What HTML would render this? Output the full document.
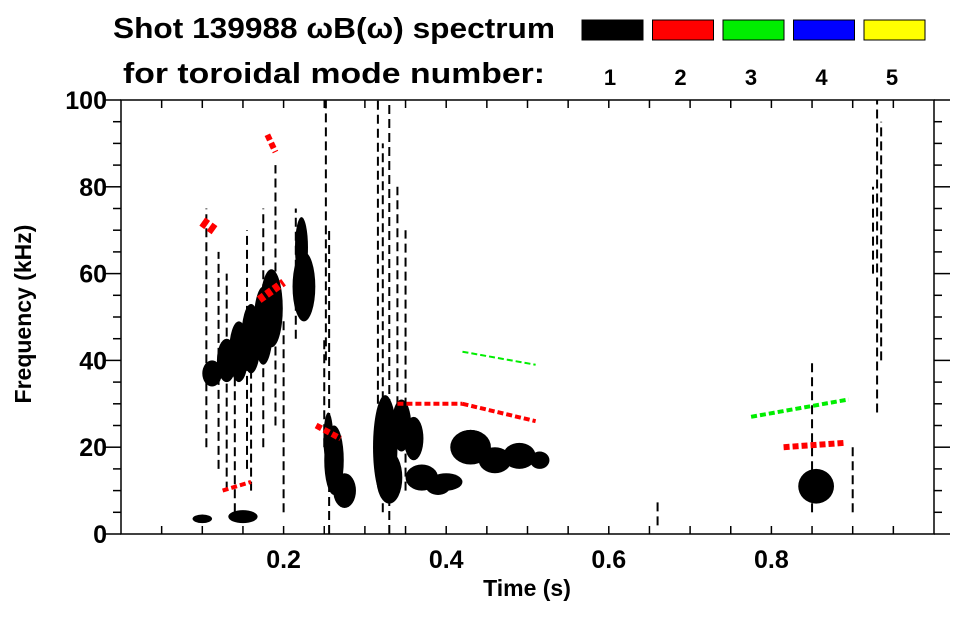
<!DOCTYPE html>
<html><head><meta charset="utf-8"><style>
body{margin:0;background:#fff;width:963px;height:615px;overflow:hidden;font-family:"Liberation Sans",Arial,sans-serif}
svg text{font-family:"Liberation Sans",Arial,sans-serif;font-weight:bold}
</style></head><body>
<svg id="chart" width="963" height="615" viewBox="0 0 963 615" xmlns="http://www.w3.org/2000/svg">
<text x="113" y="38" font-size="29" textLength="442" lengthAdjust="spacingAndGlyphs">Shot 139988 ωB(ω) spectrum</text>
<text x="123" y="83" font-size="29" textLength="422" lengthAdjust="spacingAndGlyphs">for toroidal mode number:</text>
<g id="legend"></g>
<g id="marks"></g>
<g id="axes"></g>
<text x="527" y="596" font-size="23" text-anchor="middle">Time (s)</text>
<text transform="translate(31,314) rotate(-90)" font-size="23" text-anchor="middle">Frequency (kHz)</text>
</svg>
<script>
// mode legend
const modes = [1,2,3,4,5];
const modeColors = ['#000000','#ff0000','#00ee00','#0000ff','#ffff00'];
// blobs: time center, freq center, time half-width, freq half-height, mode index
const blobT = [0.112,0.13,0.145,0.16,0.175,0.185,0.225,0.222,0.262,0.275,0.255,0.325,0.33,0.345,0.37,0.40,0.43,0.46,0.49,0.515,0.855,0.15,0.10,0.39,0.43,0.36];
const blobF = [37,40,42,45,48,52,57,66,17,10,22,20,13,25,13,12,20,17,18,17,11,4,3.5,11,21,22];
const blobDT= [0.012,0.012,0.012,0.012,0.012,0.014,0.014,0.008,0.012,0.014,0.006,0.015,0.016,0.012,0.02,0.02,0.025,0.02,0.02,0.012,0.022,0.018,0.012,0.015,0.02,0.012];
const blobDF= [3,5,7,8,9,9,8,7,8,4,6,12,6,6,3,2,4,3,3,2,4,1.5,1,2,3,5];
const blobM = [0,0,0,0,0,0,0,0,0,0,0,0,0,0,0,0,0,0,0,0,0,0,0,0,0,0];
// streaks: time, freq from, freq to, mode
const strT  = [0.105,0.12,0.13,0.155,0.175,0.19,0.2,0.215,0.252,0.256,0.316,0.322,0.33,0.34,0.35,0.93,0.935,0.925,0.25,0.14,0.16,0.66,0.9,0.85];
const strF0 = [20,15,10,15,20,25,5,45,40,0,30,5,0,20,10,28,40,60,20,5,10,2,5,5];
const strF1 = [75,65,60,70,75,85,50,75,100,70,100,90,100,80,70,100,95,80,45,45,50,8,20,40];
const strM  = [0,0,0,0,0,0,0,0,0,0,0,0,0,0,0,0,0,0,0,0,0,0,0,0];
// colored mode line segments
const segT0 = [0.34,0.42,0.815,0.775,0.42,0.10,0.17,0.125,0.24,0.18];
const segT1 = [0.42,0.51,0.89,0.895,0.51,0.115,0.2,0.16,0.27,0.19];
const segF0 = [30,30,20,27,42,72,54,10,25,92];
const segF1 = [30,26,21,31,39,70,58,12,22,88];
const segW  = [2,2,3,2,1,5,4,2,3,3];
const segM  = [1,1,1,2,2,1,1,1,1,1];

const X0=121,X1=934,Y0=534,Y1=100;
const xs=t=>X0+(X1-X0)*t/1.0;
const ys=f=>Y0-(Y0-Y1)*f/100;
const NS='http://www.w3.org/2000/svg';
const mk=(tag,at,parent)=>{const e=document.createElementNS(NS,tag);for(const k in at)e.setAttribute(k,at[k]);parent.appendChild(e);return e;};

const lg=document.getElementById('legend');
modes.forEach((m,i)=>{
  const x=582+i*70.5;
  const r=mk('rect',{x:x,y:20,width:61,height:20,fill:modeColors[i],stroke:'#000','stroke-width':1},lg);
  
  
  const t=mk('text',{x:x+28,y:85,'font-size':22,'text-anchor':'middle'},lg);
  t.textContent=m;
  
  
});

const g=document.getElementById('marks');
blobT.forEach((t,i)=>{
  const e=mk('ellipse',{cx:xs(t),cy:ys(blobF[i]),rx:xs(blobDT[i])-X0,ry:Y0-ys(blobDF[i]),fill:modeColors[blobM[i]]},g);
  
  
});
strT.forEach((t,i)=>{
  const e=mk('line',{x1:xs(t),x2:xs(t),y1:ys(strF0[i]),y2:ys(strF1[i]),stroke:modeColors[strM[i]],'stroke-width':2,'stroke-dasharray':'9 5'},g);
  
  
});
segT0.forEach((t,i)=>{
  const e=mk('line',{x1:xs(t),x2:xs(segT1[i]),y1:ys(segF0[i]),y2:ys(segF1[i]),stroke:modeColors[segM[i]],'stroke-width':segW[i]*2,'stroke-dasharray':'6 3'},g);
  
  
});

// axes
const xTicks=[0.2,0.4,0.6,0.8];
const yTicks=[0,20,40,60,80,100];
const ax=document.getElementById('axes');
mk('rect',{x:X0,y:Y1,width:X1-X0,height:Y0-Y1,fill:'none',stroke:'#000','stroke-width':1.5},ax);
for(let k=1;k<20;k++){const t=k*0.05,x=xs(t);
  mk('line',{x1:x,x2:x,y1:Y0,y2:Y0-8,stroke:'#000','stroke-width':1.5},ax);
  mk('line',{x1:x,x2:x,y1:Y1,y2:Y1+8,stroke:'#000','stroke-width':1.5},ax);}
for(let k=0;k<=20;k++){const f=k*5,y=ys(f),L=(k%4==0)?16:8;
  mk('line',{x1:X0,x2:X0-L,y1:y,y2:y,stroke:'#000','stroke-width':1.5},ax);
  mk('line',{x1:X1,x2:X1+L,y1:y,y2:y,stroke:'#000','stroke-width':1.5},ax);}
xTicks.forEach(t=>{const e=mk('text',{x:xs(t),y:568,'font-size':25,'text-anchor':'middle'},ax);e.textContent=t.toFixed(1);
  });
yTicks.forEach(f=>{const e=mk('text',{x:107,y:ys(f)+9,'font-size':25,'text-anchor':'end'},ax);e.textContent=f;
  });
</script>
</body></html>
